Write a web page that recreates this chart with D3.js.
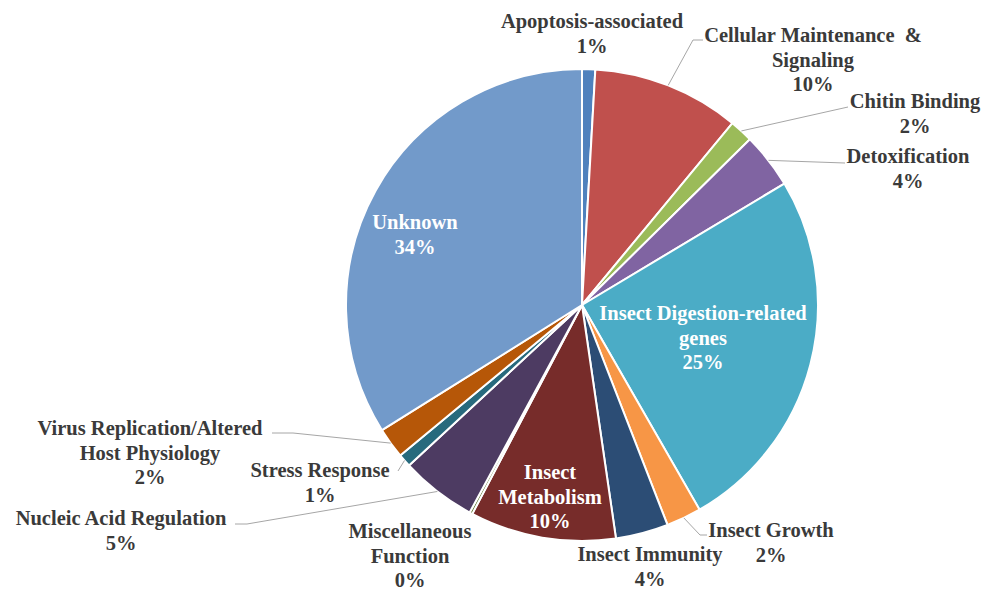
<!DOCTYPE html>
<html>
<head>
<meta charset="utf-8">
<script src="https://cdn.jsdelivr.net/npm/d3@7"></script>
<style>
  html, body { margin: 0; padding: 0; background: #fff; }
  svg { display: block; }
  .lbl { font-family: "Liberation Serif", "Times New Roman", serif; font-weight: bold; font-size: 20.5px; }
</style>
</head>
<body>
<svg id="chart" width="981" height="591"></svg>
<script>
// Gene function categories, clockwise from 12 o'clock
const categories = [
  "Apoptosis-associated",
  "Cellular Maintenance & Signaling",
  "Chitin Binding",
  "Detoxification",
  "Insect Digestion-related genes",
  "Insect Growth",
  "Insect Immunity",
  "Insect Metabolism",
  "Miscellaneous Function",
  "Nucleic Acid Regulation",
  "Stress Response",
  "Virus Replication/Altered Host Physiology",
  "Unknown"
];
// Share of genes in each category (percent)
const shares = [0.9, 10.1, 1.6, 3.8, 25.3, 2.4, 3.6, 10.0, 0.2, 5.2, 0.9, 2.1, 33.9];
// Label text broken into lines (percentage line is appended)
const labelLines = [
  ["Apoptosis-associated"],
  ["Cellular Maintenance  &", "Signaling"],
  ["Chitin Binding"],
  ["Detoxification"],
  ["Insect Digestion-related", "genes"],
  ["Insect Growth"],
  ["Insect Immunity"],
  ["Insect", "Metabolism"],
  ["Miscellaneous", "Function"],
  ["Nucleic Acid Regulation"],
  ["Stress Response"],
  ["Virus Replication/Altered", "Host Physiology"],
  ["Unknown"]
];

const colors = ["#4F81BD", "#C0504D", "#9BBB59", "#8064A2", "#4BACC6", "#F79646",
                "#2C4D75", "#772C2A", "#5F7530", "#4D3B62", "#276A7D", "#B65708", "#729ACA"];

// Label placement: centre x, centre y of first line, inside flag, leader path from label side
const labelLayout = [
  { x: 592, y: 21, inside: false, leader: null },
  { x: 813, y: 35, inside: false, leader: [[703, 40], [693, 40]] },
  { x: 915, y: 101, inside: false, leader: [[848, 107]] },
  { x: 908, y: 156, inside: false, leader: [[845, 163]] },
  { x: 703, y: 313, inside: true, leader: null },
  { x: 771, y: 530, inside: false, leader: [[707, 535], [700, 535]] },
  { x: 650, y: 554, inside: false, leader: null },
  { x: 550, y: 472, inside: true, leader: null },
  { x: 410, y: 531, inside: false, leader: null },
  { x: 121, y: 518, inside: false, leader: [[235, 524], [247, 524]] },
  { x: 320, y: 470, inside: false, leader: [[398, 471]] },
  { x: 150, y: 428, inside: false, leader: [[272, 433], [293, 433]] },
  { x: 415, y: 222, inside: true, leader: null }
];

const cx = 582, cy = 305, radius = 236, lineH = 24.5;

const svg = d3.select("#chart");
const g = svg.append("g").attr("transform", `translate(${cx},${cy})`);

const data = categories.map((c, i) => ({ name: c, value: shares[i], idx: i }));
const total = d3.sum(shares);

const pie = d3.pie().sort(null).value(d => d.value).startAngle(0).endAngle(2 * Math.PI);
const arc = d3.arc().innerRadius(0).outerRadius(radius);
const arcs = pie(data);

g.selectAll("path.slice")
  .data(arcs)
  .enter().append("path")
  .attr("class", "slice")
  .attr("d", arc)
  .attr("fill", d => colors[d.data.idx])
  .attr("stroke", "#fff")
  .attr("stroke-width", 2)
  .attr("stroke-linejoin", "round");

// Leader lines from label to the slice edge at its mid angle
arcs.forEach(a => {
  const lay = labelLayout[a.data.idx];
  if (!lay.leader) return;
  const mid = (a.startAngle + a.endAngle) / 2;
  const px = cx + radius * Math.sin(mid);
  const py = cy - radius * Math.cos(mid);
  const pts = lay.leader.concat([[px, py]]);
  svg.append("path")
    .attr("d", d3.line()(pts))
    .attr("fill", "none")
    .attr("stroke", "#A6A6A6")
    .attr("stroke-width", 1);
});

// Category labels with rounded percentage
arcs.forEach(a => {
  const i = a.data.idx;
  const lay = labelLayout[i];
  const pct = Math.round(a.data.value / total * 100) + "%";
  const lines = labelLines[i].concat([pct]);
  const t = svg.append("text")
    .attr("class", "lbl")
    .attr("text-anchor", "middle")
    .attr("fill", lay.inside ? "#ffffff" : "#3A3A3A");
  lines.forEach((ln, k) => {
    t.append("tspan")
      .attr("x", lay.x)
      .attr("y", lay.y + k * lineH)
      .attr("dy", "0.35em")
      .attr("xml:space", "preserve")
      .text(ln);
  });
});
</script>
</body>
</html>
